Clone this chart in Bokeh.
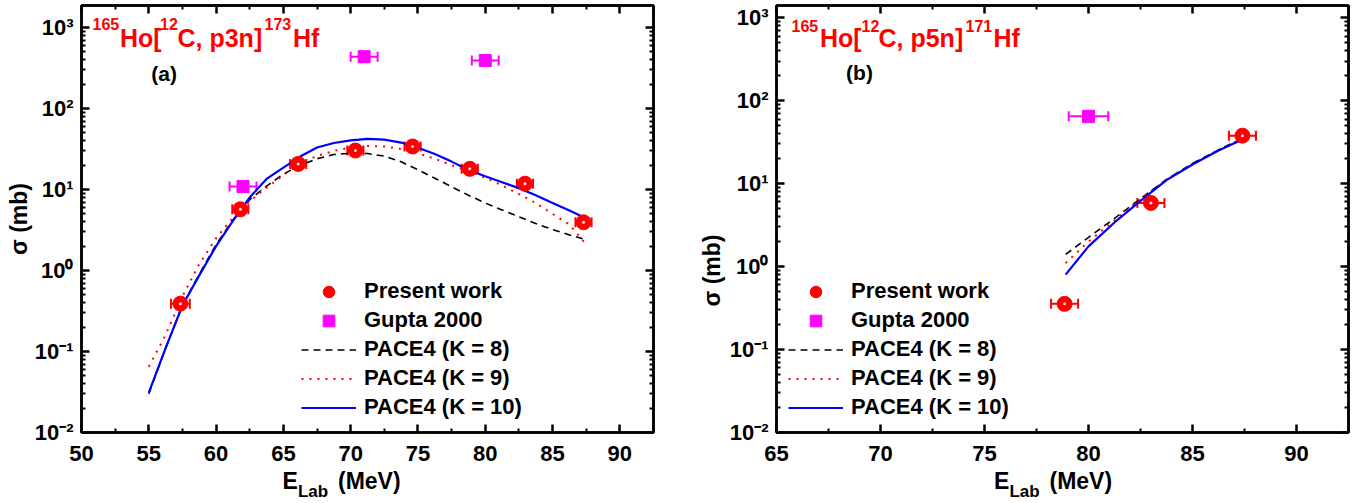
from bokeh.plotting import figure
from bokeh.models import (Range1d, FixedTicker, LinearAxis, LogAxis, Whisker, TeeHead,
                          ColumnDataSource, Legend, LegendItem, Label)
from bokeh.layouts import row
from bokeh.embed import file_html
from bokeh.resources import INLINE
import math

FONT = "Liberation Sans"

# ---------------- data: panel (a) ----------------
a_exp_E = [57.35, 61.8, 66.1, 70.35, 74.6, 78.85, 82.95, 87.3]
a_exp_sig = [0.39, 5.7, 20.7, 30.3, 34.0, 18.0, 11.8, 3.94]
a_exp_dE = [0.7, 0.6, 0.6, 0.6, 0.6, 0.6, 0.6, 0.6]
a_gupta_E = [62.0, 71.0, 80.0]
a_gupta_sig = [10.9, 436.0, 392.0]
a_gupta_dE = [1.0, 1.0, 1.0]
a_pace_E = [55, 56.25, 57.5, 58.75, 60, 61.25, 62.5, 63.75, 65, 66.25, 67.5, 68.75, 70,
            71.25, 72.5, 73.75, 75, 76.25, 77.5, 78.75, 80, 81.25, 82.5, 83.75, 85, 86.25, 87.5]
a_k8 = [0.03, 0.11, 0.37, 0.9, 2.1, 4.2, 7.5, 11.0, 15.5, 20.0, 24.0, 27.0, 28.0,
        27.8, 25.8, 22.0, 17.5, 13.8, 10.8, 8.5, 6.8, 5.6, 4.6, 3.8, 3.2, 2.75, 2.4]
a_k9 = [0.065, 0.16, 0.48, 1.2, 2.5, 4.5, 7.2, 10.5, 15.0, 21.0, 26.0, 30.0, 33.0,
        34.5, 34.0, 31.5, 28.0, 24.0, 20.0, 16.8, 14.0, 11.2, 8.8, 6.8, 5.0, 3.7, 2.1]
a_k10 = [0.031, 0.11, 0.37, 0.87, 2.0, 4.1, 8.0, 13.5, 18.6, 25.5, 33.0, 37.5, 40.5,
         42.3, 41.2, 38.0, 32.7, 27.5, 22.1, 17.4, 14.6, 12.3, 10.4, 8.5, 6.8, 5.5, 4.4]

# ---------------- data: panel (b) ----------------
b_exp_E = [78.85, 83.0, 87.4]
b_exp_sig = [0.355, 5.85, 37.8]
b_exp_dE = [0.65, 0.65, 0.65]
b_gupta_E = [80.0]
b_gupta_sig = [64.6]
b_gupta_dE = [0.95]
b_pace_E = [78.9, 80, 81.25, 82.5, 83.75, 85, 86.25, 87.4]
b_k8 = [1.4, 2.25, 3.8, 6.6, 11.2, 17.5, 25.5, 35.0]
b_k9 = [1.1, 2.0, 3.6, 6.5, 11.1, 17.3, 25.3, 35.0]
b_k10 = [0.8, 1.75, 3.4, 6.2, 11.0, 17.0, 25.0, 34.0]

# ---------------- ticks / labels ----------------
a_x_major = [50, 55, 60, 65, 70, 75, 80, 85, 90]
a_x_minor = [52.5, 57.5, 62.5, 67.5, 72.5, 77.5, 82.5, 87.5, 92.5]
b_x_major = [65, 70, 75, 80, 85, 90]
b_x_minor = [67.5, 72.5, 77.5, 82.5, 87.5, 92.5]
y_major = [1e-2, 1e-1, 1e0, 1e1, 1e2, 1e3]
y_major_labels = ["10\u207b\u00b2", "10\u207b\u00b9", "10\u2070", "10\u00b9", "10\u00b2", "10\u00b3"]
y_minor = [k * 10.0 ** e for e in range(-2, 3) for k in range(2, 10)]

legend_labels = ["Present work", "Gupta 2000", "PACE4 (K = 8)", "PACE4 (K = 9)", "PACE4 (K = 10)"]
y_title = "\u03c3 (mb)"
x_title_parts = ["E", "Lab", "(MeV)"]

RED = "#FF0000"
MAG = "#FF00FF"
BLUE = "#0000FF"

FR_TOP, FR_BOT = 5, 432


def style_axis(ax, labels=True, size=22):
    ax.axis_line_width = 2.5
    ax.axis_line_color = "black"
    ax.major_tick_line_width = 2.5
    ax.minor_tick_line_width = 2
    ax.major_tick_in = 8
    ax.major_tick_out = 0
    ax.minor_tick_in = 4
    ax.minor_tick_out = 0
    ax.major_label_text_font = FONT
    ax.major_label_text_font_style = "bold"
    ax.major_label_text_color = "black"
    if labels:
        ax.major_label_text_font_size = f"{size}px"
    else:
        ax.major_label_text_font_size = "1px"
        ax.major_label_text_alpha = 0
        ax.major_label_standoff = 0


def text_axis(kind, ticks, texts, size, standoff, orientation="horizontal"):
    """An axis with no line and no ticks, used only to write a title piece."""
    ax = (LinearAxis if kind == "lin" else LogAxis)(
        ticker=FixedTicker(ticks=ticks, minor_ticks=[]))
    ax.major_label_overrides = {t: s for t, s in zip(ticks, texts)}
    ax.axis_line_alpha = 0
    ax.major_tick_line_alpha = 0
    ax.minor_tick_line_alpha = 0
    ax.major_tick_in = 0
    ax.major_tick_out = 0
    ax.minor_tick_in = 0
    ax.minor_tick_out = 0
    ax.major_label_standoff = standoff
    ax.major_label_orientation = orientation
    ax.major_label_text_font = FONT
    ax.major_label_text_font_style = "bold"
    ax.major_label_text_font_size = f"{size}px"
    ax.major_label_text_color = "black"
    return ax


def make_panel(xr, ytop, xmaj, xmin, mbl, mbr, width, fleft, d):
    fw = width - mbl - mbr
    p = figure(width=width, height=503, x_range=Range1d(*xr), y_range=Range1d(0.01, ytop),
               y_axis_type="log", output_backend="svg", toolbar_location=None,
               min_border_left=mbl, min_border_right=mbr, min_border_top=FR_TOP,
               min_border_bottom=503 - FR_BOT,
               background_fill_color="white", border_fill_color="white",
               outline_line_color="black", outline_line_width=2.5)
    p.xgrid.visible = False
    p.ygrid.visible = False
    xt = FixedTicker(ticks=xmaj, minor_ticks=xmin)
    yt = FixedTicker(ticks=y_major, minor_ticks=y_minor)
    xax = p.below[0]
    yax = p.left[0]
    xax.ticker = xt
    yax.ticker = yt
    yax.major_label_overrides = {v: s for v, s in zip(y_major, y_major_labels)}
    style_axis(xax, size=22)
    style_axis(yax, size=22)
    xax.major_label_standoff = 13
    yax.major_label_standoff = 8
    top = LinearAxis(ticker=xt)
    style_axis(top, labels=False)
    p.add_layout(top, "above")
    right = LogAxis(ticker=yt)
    style_axis(right, labels=False)
    p.add_layout(right, "right")

    # pixel -> data helpers (for placing title pieces only)
    def xd(px):
        return round(xr[0] + (px - fleft) * (xr[1] - xr[0]) / fw, 3)

    def yd(py):
        lo, hi = -2.0, math.log10(ytop)
        return round(10 ** (lo + (FR_BOT - py) * (hi - lo) / (FR_BOT - FR_TOP)), 4)

    # x title: "E" + subscript "Lab" + "(MeV)"
    ex = d["xlab"]
    p.add_layout(text_axis("lin", [xd(ex + 7.7), xd(ex + 86.8)],
                           [x_title_parts[0], x_title_parts[2]], 23, 4), "below")
    p.add_layout(text_axis("lin", [xd(ex + 30.6)], [x_title_parts[1]], 17, -15), "below")
    # y title (rotated)
    if d["ylab"][0] is None:
        yax.axis_label = y_title
        yax.axis_label_standoff = 0
        yax.axis_label_text_font = FONT
        yax.axis_label_text_font_style = "bold"
        yax.axis_label_text_font_size = "23px"
        yax.axis_label_text_color = "black"
    else:
        p.add_layout(text_axis("log", [yd(d["ylab"][1])], [y_title], 23, d["ylab"][0],
                               orientation=math.pi / 2), "left")

    # error bars
    esrc = ColumnDataSource(dict(x=d["exp_E"], y=d["exp_sig"],
                                 lo=[x - e for x, e in zip(d["exp_E"], d["exp_dE"])],
                                 hi=[x + e for x, e in zip(d["exp_E"], d["exp_dE"])]))
    gsrc = ColumnDataSource(dict(x=d["g_E"], y=d["g_sig"],
                                 lo=[x - e for x, e in zip(d["g_E"], d["g_dE"])],
                                 hi=[x + e for x, e in zip(d["g_E"], d["g_dE"])]))
    for src, col in ((esrc, RED), (gsrc, MAG)):
        w = Whisker(source=src, base="y", lower="lo", upper="hi", dimension="width",
                    line_color=col, line_width=2, level="underlay",
                    upper_head=TeeHead(size=10, line_color=col, line_width=2),
                    lower_head=TeeHead(size=10, line_color=col, line_width=2))
        p.add_layout(w)

    r8 = p.line(d["pE"], d["k8"], line_color="black", line_width=1.6, line_dash="7 5")
    r9 = p.line(d["pE"], d["k9"], line_color=RED, line_width=2, line_dash="2 6")
    r10 = p.line(d["pE"], d["k10"], line_color=BLUE, line_width=2.2)

    rg = p.scatter("x", "y", source=gsrc, marker="square", size=12, fill_color=MAG, line_color=MAG)
    rc = p.scatter("x", "y", source=esrc, marker="circle", size=15, fill_color=RED, line_color=RED)
    p.scatter("x", "y", source=esrc, marker="circle", size=3, fill_color="#FFD8D8", line_alpha=0)

    items = [LegendItem(label=legend_labels[0], renderers=[rc]),
             LegendItem(label=legend_labels[1], renderers=[rg]),
             LegendItem(label=legend_labels[2], renderers=[r8]),
             LegendItem(label=legend_labels[3], renderers=[r9]),
             LegendItem(label=legend_labels[4], renderers=[r10])]
    leg = Legend(items=items, location=(d["leg_x"], 10.5), padding=0, margin=0, spacing=0,
                 label_height=29, glyph_height=29, glyph_width=55, label_standoff=8,
                 border_line_alpha=0, background_fill_alpha=0,
                 label_text_font=FONT, label_text_font_style="bold", label_text_font_size="22px",
                 label_text_color="black")
    p.add_layout(leg)

    def lab(text, xa, ya, size, color="black", align="left", baseline="alphabetic"):
        p.add_layout(Label(x=xa - fleft, y=FR_BOT - ya, x_units="screen", y_units="screen",
                           text=text, text_font=FONT, text_font_style="bold",
                           text_font_size=f"{size}px", text_color=color,
                           text_align=align, text_baseline=baseline))

    for text, xa, ya, sz in d["title"]:
        lab(text, xa, ya, sz, color=RED)
    lab(d["tag"][0], d["tag"][1], d["tag"][2], 21, align="center", baseline="middle")
    return p


da = dict(exp_E=a_exp_E, exp_sig=a_exp_sig, exp_dE=a_exp_dE,
          g_E=a_gupta_E, g_sig=a_gupta_sig, g_dE=a_gupta_dE,
          pE=a_pace_E, k8=a_k8, k9=a_k9, k10=a_k10, leg_x=220,
          title=[("165", 92.0, 23, 16), ("Ho[", 119.5, 37, 25), ("12", 159.5, 23, 16),
                 ("C, p3n]", 177.0, 37, 25), ("173", 264.0, 23, 16), ("Hf", 292.5, 37, 25)],
          tag=("(a)", 163.7, 73), ylab=(None, 210), xlab=282.0)
db = dict(exp_E=b_exp_E, exp_sig=b_exp_sig, exp_dE=b_exp_dE,
          g_E=b_gupta_E, g_sig=b_gupta_sig, g_dE=b_gupta_dE,
          pE=b_pace_E, k8=b_k8, k9=b_k9, k10=b_k10, leg_x=12,
          title=[("165", 791.0, 25, 16), ("Ho[", 819.5, 37, 25), ("12", 861.0, 25, 16),
                 ("C, p5n]", 878.0, 37, 25), ("171", 965.0, 25, 16), ("Hf", 993.0, 37, 25)],
          tag=("(b)", 859.0, 71.5), ylab=(14, 234), xlab=993.5)

p1 = make_panel((50, 92.5), 1870, a_x_major, a_x_minor, 81, 20, 673, 81, da)
p2 = make_panel((65, 92.5), 1400, b_x_major, b_x_minor, 103, 17, 692, 776, db)

layout = row(p1, p2, spacing=0)
open("out.html", "w").write(file_html(layout, INLINE))
